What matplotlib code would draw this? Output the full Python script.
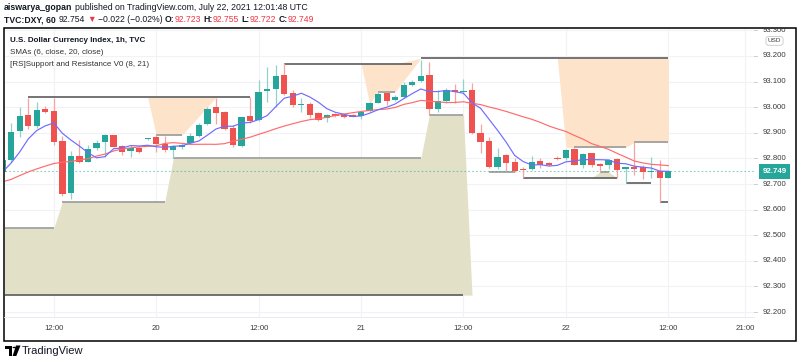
import numpy as np
import pandas as pd
import matplotlib
matplotlib.use("Agg")
import matplotlib.pyplot as plt
from matplotlib.patches import Rectangle, Polygon, Circle

FONT = ['Liberation Sans', 'DejaVu Sans']
plt.rcParams['font.family'] = FONT

# ------------------------------------------------------------------ data
bar_start = "2021-07-19 06:00"   # hourly bars
opens = [92.748, 92.794, 92.907, 92.970, 92.927, 92.992, 92.985, 92.868, 92.664, 92.811,
         92.787, 92.839, 92.864, 92.891, 92.849, 92.829, 92.842, 92.874, 92.882, 92.855,
         92.833, 92.845, 92.861, 92.888, 92.934, 93.000, 92.980, 92.918, 92.850, 92.966,
         92.950, 93.064, 93.072, 93.126, 93.054, 93.007, 93.013, 92.976, 92.957, 92.973,
         92.970, 92.970, 92.967, 92.986, 93.018, 93.057, 93.028, 93.041, 93.087, 93.103,
         93.126, 92.993, 93.025, 93.067, 93.058, 93.067, 92.900, 92.869, 92.768, 92.812,
         92.785, 92.757, 92.757, 92.790, 92.781, 92.803, 92.800, 92.836, 92.774, 92.820,
         92.778, 92.773, 92.796, 92.760, 92.768, 92.765, 92.747, 92.752, 92.723]
highs = [92.800, 92.937, 93.002, 93.037, 93.019, 93.004, 93.037, 92.889, 92.829, 92.872,
         92.852, 92.872, 92.895, 92.893, 92.852, 92.852, 92.849, 92.880, 92.891, 92.888,
         92.852, 92.862, 92.898, 92.939, 93.002, 93.035, 92.986, 92.930, 92.963, 93.041,
         93.106, 93.156, 93.165, 93.171, 93.067, 93.037, 93.019, 92.981, 92.973, 92.977,
         92.973, 92.972, 92.985, 93.021, 93.061, 93.058, 93.048, 93.100, 93.106, 93.184,
         93.178, 93.067, 93.074, 93.089, 93.109, 93.093, 92.934, 92.882, 92.839, 92.816,
         92.803, 92.768, 92.809, 92.803, 92.786, 92.809, 92.836, 92.842, 92.820, 92.822,
         92.781, 92.799, 92.800, 92.768, 92.865, 92.776, 92.804, 92.794, 92.755]
lows = [92.745, 92.787, 92.885, 92.915, 92.918, 92.978, 92.852, 92.654, 92.640, 92.783,
        92.785, 92.833, 92.807, 92.843, 92.813, 92.804, 92.820, 92.872, 92.826, 92.826,
        92.800, 92.835, 92.859, 92.882, 92.929, 92.934, 92.911, 92.843, 92.846, 92.939,
        92.946, 93.021, 93.002, 93.048, 93.002, 92.982, 92.957, 92.946, 92.943, 92.963,
        92.959, 92.961, 92.954, 92.982, 93.015, 93.009, 93.025, 93.037, 93.084, 93.097,
        92.970, 92.982, 93.015, 93.015, 93.050, 92.895, 92.820, 92.761, 92.759, 92.751,
        92.748, 92.722, 92.755, 92.761, 92.769, 92.794, 92.794, 92.774, 92.761, 92.765,
        92.748, 92.759, 92.722, 92.705, 92.735, 92.720, 92.722, 92.631, 92.722]
closes = [92.794, 92.904, 92.966, 92.928, 92.989, 92.982, 92.863, 92.660, 92.809, 92.785,
          92.836, 92.861, 92.890, 92.846, 92.826, 92.842, 92.826, 92.878, 92.855, 92.833,
          92.850, 92.852, 92.888, 92.930, 92.993, 92.976, 92.915, 92.852, 92.961, 92.946,
          93.059, 93.071, 93.122, 93.052, 93.009, 93.014, 92.970, 92.950, 92.970, 92.967,
          92.963, 92.963, 92.981, 93.015, 93.053, 93.024, 93.040, 93.087, 93.100, 93.123,
          92.992, 93.024, 93.067, 93.058, 93.063, 92.898, 92.865, 92.765, 92.807, 92.783,
          92.751, 92.754, 92.785, 92.774, 92.774, 92.799, 92.833, 92.776, 92.816, 92.773,
          92.772, 92.794, 92.755, 92.765, 92.760, 92.748, 92.752, 92.722, 92.749]

# SMA values of the first bars (their window starts before the visible data)
sma6_head = [92.747, 92.782, 92.825, 92.876, 92.909]
sma20_head = [92.709, 92.718, 92.733, 92.747, 92.759, 92.770, 92.780, 92.785, 92.788, 92.794,
              92.799, 92.809, 92.817, 92.829, 92.837, 92.841, 92.845, 92.847, 92.849]

# Support / resistance levels: (first bar, last bar, price)
res_upper_levels = [(3, 29, 93.038), (33, 48, 93.169), (49, 78, 93.191)]
res_lower_levels = [(18, 21, 92.891), (44, 46, 93.061), (67, 73, 92.843), (74, 78, 92.863)]
sup_upper_levels = [(0, 6, 92.528), (7, 19, 92.631), (20, 49, 92.800), (50, 54, 92.970),
                    (57, 60, 92.748), (70, 71, 92.748)]
sup_lower_levels = [(0, 54, 92.266), (61, 72, 92.723), (73, 76, 92.705), (77, 78, 92.631)]

# filled zones: (bars, top, bottom)
res_zones = [
    ([17, 18, 21, 25], [93.038, 93.038, 93.038, 93.038], [93.038, 92.891, 92.891, 93.038]),
    ([42, 43, 44, 46, 49], [93.169, 93.169, 93.169, 93.169, 93.191],
     [93.169, 93.015, 93.061, 93.061, 93.191]),
    ([65, 66, 73, 74, 78], [93.191, 93.191, 93.191, 93.191, 93.191],
     [93.191, 92.843, 92.843, 92.863, 92.863]),
]
sup_zones = [
    ([0, 6, 7, 19, 20, 49, 50, 54, 55],
     [92.528, 92.528, 92.631, 92.631, 92.800, 92.800, 92.970, 92.970, 92.266],
     [92.266, 92.266, 92.266, 92.266, 92.266, 92.266, 92.266, 92.266, 92.266]),
    ([69, 70, 71, 72], [92.723, 92.748, 92.748, 92.723], [92.723, 92.723, 92.723, 92.723]),
]

price_ticks = [92.2, 92.3, 92.4, 92.5, 92.6, 92.7, 92.8, 92.9, 93.0, 93.1, 93.2, 93.3]
price_tick_labels = ['92.200', '92.300', '92.400', '92.500', '92.600', '92.700',
                     '92.800', '92.900', '93.000', '93.100', '93.200', '93.300']
time_ticks = ['2021-07-19 12:00', '2021-07-20 00:00', '2021-07-20 12:00', '2021-07-21 00:00',
              '2021-07-21 12:00', '2021-07-22 00:00', '2021-07-22 12:00', '2021-07-22 21:00']
time_tick_labels = ['12:00', '20', '12:00', '21', '12:00', '22', '12:00', '21:00']

# ------------------------------------------------------------------ styles
UP, DN = '#26a69a', '#ef5350'
UP_W, DN_W = '#8fd3cc', '#f6a4a2'
ORANGE = '#fde3c9'
OLIVE = '#e2e1c8'
DARK_LINE, LIGHT_LINE = '#5c5c5c', '#9a9a9a'
TXT = '#131722'
AXTXT = '#3a3a3a'

W, H = 800, 362
fig = plt.figure(figsize=(W / 100, H / 100), dpi=100)
fig.patch.set_facecolor('white')


def fx(px):
    return px / W


def fy(py):
    return 1 - py / H


PL, PR, PT, PB = 4.5, 754.0, 28.5, 317.0
ax = fig.add_axes([fx(PL), fy(PB), (PR - PL) / W, (PB - PT) / H])

t0 = pd.Timestamp('2021-07-19 00:00')
times = pd.date_range(bar_start, periods=len(closes), freq='h')
x = np.asarray((times - t0) / pd.Timedelta(hours=1), dtype=float)
xt = np.asarray((pd.to_datetime(time_ticks) - t0) / pd.Timedelta(hours=1), dtype=float)

o = np.array(opens); h = np.array(highs); l = np.array(lows); c = np.array(closes)

ax.set_xlim(6.22, 94.04)
ax.set_ylim(92.1805, 93.3074)

# grid
for p in price_ticks:
    ax.axhline(p, color='#f0f2f6', lw=0.8, zorder=0)
for v in xt:
    ax.axvline(v, color='#f0f2f6', lw=0.8, zorder=0)

# zones
for bars, top, bot in res_zones:
    ax.fill_between(x[bars], top, bot, color=ORANGE, lw=0, zorder=1)
for bars, top, bot in sup_zones:
    ax.fill_between(x[bars], top, bot, color=OLIVE, lw=0, zorder=1)

# level lines
for levels, col in [(res_upper_levels, DARK_LINE), (res_lower_levels, LIGHT_LINE),
                    (sup_upper_levels, LIGHT_LINE), (sup_lower_levels, DARK_LINE)]:
    for a, b, p in levels:
        ax.hlines(p, x[a], x[b], color=col, lw=1.2, zorder=2)

# current price line
ax.axhline(c[-1], color=UP, lw=0.8, ls=(0, (1.5, 2.0)), alpha=0.55, zorder=2)

# candles
upm = c >= o
wick_cols = np.where(upm, UP_W, DN_W)
body_cols = np.where(upm, UP, DN)
ax.vlines(x, l, h, colors=wick_cols, lw=0.9, zorder=3)
body_h = np.abs(c - o)
min_h = 0.004
mid = (c + o) / 2
bot = np.where(body_h < min_h, mid - min_h / 2, np.minimum(o, c))
hgt = np.maximum(body_h, min_h)
ax.bar(x, hgt, bottom=bot, width=0.74, color=body_cols, lw=0, zorder=4)

# SMAs
cs = pd.Series(c)
sma6 = cs.rolling(6).mean().to_numpy()
sma6[:len(sma6_head)] = sma6_head
sma20 = cs.rolling(20).mean().to_numpy()
sma20[:len(sma20_head)] = sma20_head
ax.plot(x, sma20, color='#ff6b6b', lw=0.85, zorder=5)
ax.plot(x, sma6, color='#6f6cff', lw=0.85, zorder=5)

for s in ax.spines.values():
    s.set_visible(False)
ax.set_yticks([])
ax.set_xticks(xt)
ax.set_xticklabels(time_tick_labels, fontsize=5.6, color=AXTXT)
ax.tick_params(axis='x', length=0, pad=6.0)

# price scale
pax = fig.add_axes([fx(PR), fy(PB), (795 - PR) / W, (PB - PT) / H])
pax.set_xlim(0, 1)
pax.set_ylim(ax.get_ylim())
pax.axis('off')
for p, lab in zip(price_ticks, price_tick_labels):
    pax.text(0.50, p, lab, ha='center', va='center', fontsize=5.6, color=AXTXT,
             clip_on=True)
    pax.plot([0.0, 0.07], [p, p], color='#c4c4c4', lw=0.6, clip_on=True)
pax.text(0.50, 93.259, 'USD', ha='center', va='center', fontsize=4.6, color=AXTXT,
         bbox=dict(boxstyle='round,pad=0.3,rounding_size=0.45', fc='white', ec='#c8c8c8', lw=0.6),
         zorder=6)
pax.text(0.50, c[-1], f'{c[-1]:.3f}', ha='center', va='center', fontsize=5.8, color='white',
         fontweight='bold',
         bbox=dict(boxstyle='square,pad=0.45', fc=UP, ec='none'), zorder=6)

# separators and frame
fig.add_artist(plt.Line2D([fx(4), fx(PR)], [fy(PB), fy(PB)], color='#e6e8ee', lw=0.6))
fig.add_artist(Rectangle((fx(4), fy(341)), fx(796) - fx(4), fy(28) - fy(341),
                         fill=False, ec='black', lw=1.1, transform=fig.transFigure))

# header texts
r = fig.canvas.get_renderer()


def chain(x0, yc, parts, size):
    xx = x0
    sp = size * 100 / 72 * 0.278
    for txt, col, bold in parts:
        lead = len(txt) - len(txt.lstrip(' '))
        xx += lead * sp
        t = fig.text(fx(xx), fy(yc), txt.strip(' '), color=col, fontsize=size,
                     fontweight='bold' if bold else 'normal', ha='left', va='center',
                     family=FONT)
        xx += t.get_window_extent(r).width


RED = '#f23645'
chain(4, 7.5, [('aiswarya_gopan', TXT, True),
               (' published on TradingView.com, July 22, 2021 12:01:48 UTC', TXT, False)], 6.35)
chain(4, 19.5, [('TVC:DXY, 60', TXT, True), (' 92.754', TXT, False), (' ▼', RED, False),
                (' −0.022 (−0.02%)', TXT, False), (' O:', TXT, True), ('92.723', RED, False),
                (' H:', TXT, True), ('92.755', RED, False), (' L:', TXT, True),
                ('92.722', RED, False), (' C:', TXT, True), ('92.749', RED, False)], 6.2)

chain(10, 40.5, [('U.S. Dollar Currency Index, 1h, TVC', TXT, True)], 5.8)
chain(10, 52.3, [('SMAs (6, close, 20, close)', '#333333', False)], 5.8)
chain(10, 64.3, [('[RS]Support and Resistance V0 (8, 21)', '#333333', False)], 5.8)

# TradingView logo
logo = [Polygon([(5, 345.5), (12, 345.5), (12, 356), (8.8, 356), (8.8, 348.8), (5, 348.8)]),
        Polygon([(16, 345.5), (20.5, 345.5), (16.3, 356), (12.6, 356)])]
for pg in logo:
    xy = pg.get_xy()
    fig.add_artist(Polygon([(fx(a), fy(b)) for a, b in xy], closed=True, fc='black', ec='none',
                           transform=fig.transFigure))
fig.add_artist(Circle((fx(14.2), fy(347.5)), 1.7 / W, fc='black', ec='none',
                      transform=fig.transFigure))
chain(22, 351, [('TradingView', TXT, False)], 8.0)

fig.savefig('out.png', dpi=100, facecolor='white')
